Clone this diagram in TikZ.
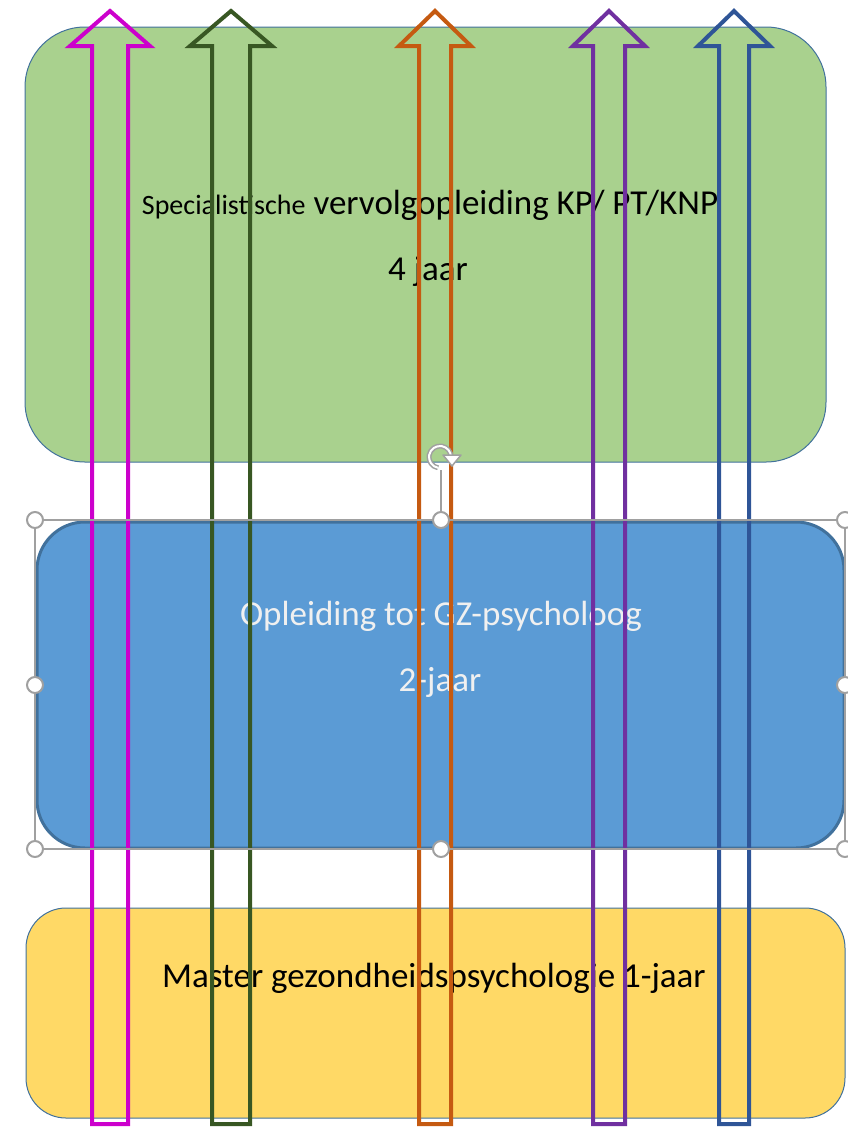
\documentclass[tikz,border=0pt]{standalone}
\usepackage{fontspec}
\setmainfont{Carlito}
\usepackage{tikz}

\definecolor{specgreen}{HTML}{A9D18E}
\definecolor{gzblue}{HTML}{5B9BD5}
\definecolor{masteryellow}{HTML}{FFD966}
\definecolor{boxline}{HTML}{41719C}
\definecolor{gztext}{HTML}{F0F0F0}
\definecolor{pinkroute}{HTML}{CC00CC}
\definecolor{greenroute}{HTML}{385723}
\definecolor{orangeroute}{HTML}{C55A11}
\definecolor{purpleroute}{HTML}{7030A0}
\definecolor{blueroute}{HTML}{2F5597}
\definecolor{handlegray}{HTML}{A0A0A0}

\begin{document}
\begin{tikzpicture}[x = 1pt, y = -1pt,
	box/.style = {draw = boxline, line width = 1pt, rounded corners = 60pt, inner sep = 0pt},
	label/.style = {anchor = base, inner sep = 0pt, font = \fontsize{35}{42}\selectfont},
	route/.style = {line width = 4pt, miter limit = 10},
	selline/.style = {draw = handlegray, line width = 1.2pt},
	handle/.style = {circle, draw = handlegray, fill = white, line width = 2pt, minimum size = 16pt, inner sep = 0pt}]
		
		\useasboundingbox (0,0) rectangle (848,1128);
		
		\node[box, fill = specgreen, minimum width = 801pt, minimum height = 435pt] at (425.5,244.5) (spec) {};
		\node[box, fill = gzblue, line width = 3pt, rounded corners = 48pt, minimum width = 807pt, minimum height = 326pt] at (440.5,685) (gz) {};
		\node[box, fill = masteryellow, rounded corners = 40pt, minimum width = 819pt, minimum height = 210pt] at (435.5,1013) (master) {};
		
		\node[label] at (430,214) (spectxt) {{\fontsize{28}{34}\selectfont Specialistische} vervolgopleiding KP/ PT/KNP};
		\node[label] at (428,280) (specyears) {4 jaar};
		\node[label, text = gztext] at (441,625) (gztxt) {Opleiding tot GZ-psycholoog};
		\node[label, text = gztext] at (440,691) (gzyears) {2-jaar};
		\node[label] at (434,987) (mastertxt) {Master gezondheidspsychologie 1-jaar};
		
		\foreach \cx/\sw/\hw/\col in {110/18/40/pinkroute, 231/19/41/greenroute, 435/16/36/orangeroute, 609/16/36/purpleroute, 734/15/36/blueroute}
			\draw[route, draw = \col] (\cx-\sw,1124) -- (\cx-\sw,46) -- (\cx-\hw,46) -- (\cx,11) -- (\cx+\hw,46) -- (\cx+\sw,46) -- (\cx+\sw,1124) -- cycle;
		
		\draw[selline] (35,520) rectangle (845,849);
		\coordinate (rot) at (440,457);
		\draw[selline] (441,470) -- (441,520);
		\draw[draw = handlegray, line width = 5pt] (rot) ++(100:11) arc[start angle = 100, end angle = 360, radius = 11];
		\draw[draw = white, line width = 2pt] (rot) ++(100:11) arc[start angle = 100, end angle = 360, radius = 11];
		\filldraw[draw = handlegray, fill = white, line width = 1.5pt, line join = round] (443,455) -- (461,455) -- (452,466) -- cycle;
		
		\foreach \hx/\hy/\hn in {35/520/hnw, 441/520/hn, 845/520/hne, 35/685/hw, 845/685/he, 35/849/hsw, 441/849/hs, 845/849/hse}
			\node[handle] at (\hx,\hy) (\hn) {};
		
		\end{tikzpicture}
\end{document}
